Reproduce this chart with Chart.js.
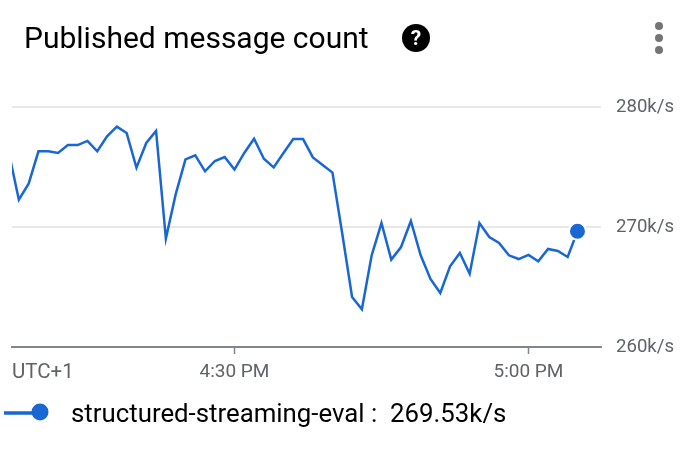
<!DOCTYPE html>
<html>
<head>
<meta charset="utf-8">
<title>Published message count</title>
<script src="https://cdn.jsdelivr.net/npm/chart.js@4/dist/chart.umd.min.js"></script>
<style>
  html, body { margin: 0; padding: 0; background: #fff; overflow: hidden; }
  body { width: 698px; height: 450px; position: relative; font-family: Roboto, sans-serif; }
  #myChart { position: absolute; left: 0; top: 0; }
  .title { position: absolute; left: 24px; top: 20px; font-size: 30px; line-height: 36px; color: #000; white-space: nowrap; }
  .help { position: absolute; left: 402px; top: 24px; }
  .menu { position: absolute; left: 653px; top: 20px; }
  .utc { position: absolute; left: 12px; top: 360px; font-size: 20.5px; line-height: 22px; color: #5f6368; }
  .legend { position: absolute; left: 0; top: 396px; height: 34px; width: 698px; }
  .legend svg { position: absolute; left: 0; top: 0; }
  .legend span { position: absolute; left: 71px; top: 2px; font-size: 25.8px; line-height: 30px; color: #000; white-space: pre; }
</style>
</head>
<body>
<canvas id="myChart" width="698" height="450"></canvas>
<div class="title" id="chartTitle"></div>
<svg class="help" width="28" height="28" viewBox="0 0 28 28">
  <circle cx="14" cy="14" r="14" fill="#000"/>
  <text x="14" y="21" text-anchor="middle" font-family="Roboto" font-weight="700" font-size="21" fill="#fff">?</text>
</svg>
<svg class="menu" width="12" height="36" viewBox="0 0 12 36">
  <circle cx="6" cy="6" r="4" fill="#757575"/>
  <circle cx="6" cy="18" r="4" fill="#757575"/>
  <circle cx="6" cy="30" r="4" fill="#757575"/>
</svg>
<div class="utc" id="zoneLabel"></div>
<div class="legend">
  <svg width="60" height="34" viewBox="0 0 60 34">
    <line x1="4" y1="17" x2="32" y2="17" stroke="#1967d2" stroke-width="3.5"/>
    <circle cx="40" cy="16" r="8.5" fill="#1967d2"/>
  </svg>
  <span id="legendText"></span>
</div>

<script>
const chartTitle = "Published message count";
const seriesName = "structured-streaming-eval";
const latestLabel = "269.53k/s";
const zoneLabel = "UTC+1";

// minutes relative to 4:30 PM
const minutes = [
  -23, -22, -21, -20, -19, -18, -17, -16, -15, -14, -13, -12, -11, -10, -9,
  -8, -7, -6, -5, -4, -3, -2, -1, 0, 1, 2, 3, 4, 5, 6,
  7, 8, 9, 10, 11, 12, 13, 14, 15, 16, 17, 18, 19, 20, 21,
  22, 23, 24, 25, 26, 27, 28, 29, 30, 31, 32, 33, 34, 35
];

// thousands of messages per second
const values = [
  276.1, 272.28, 273.61, 276.31, 276.31, 276.17, 276.83, 276.83, 277.17, 276.31, 277.56, 278.36, 277.83, 274.94, 277.0,
  278.0, 269.03, 272.72, 275.64, 275.97, 274.64, 275.5, 275.83, 274.78, 276.17, 277.36, 275.69, 274.97, 276.17, 277.33,
  277.33, 275.8, 275.17, 274.53, 269.44, 264.17, 263.14, 267.64, 270.33, 267.28, 268.33, 270.5, 267.64, 265.67, 264.5,
  266.72, 267.83, 266.11, 270.33, 269.17, 268.67, 267.64, 267.33, 267.67, 267.14, 268.17, 268.0, 267.5, 269.64
];

const xTicks = [0, 30];
const xTickLabels = ["4:30 PM", "5:00 PM"];
const yTicks = [260, 270, 280];

document.getElementById("chartTitle").textContent = chartTitle;
document.getElementById("zoneLabel").textContent = zoneLabel;
document.getElementById("legendText").textContent = seriesName + " :  " + latestLabel;

const points = minutes.map((m, i) => ({ x: m, y: values[i] }));
const lastIndex = points.length - 1;

const ctx = document.getElementById("myChart").getContext("2d");

const myChart = new Chart(ctx, {
  type: "line",
  data: {
    datasets: [{
      label: seriesName,
      data: points,
      borderColor: "#1967d2",
      backgroundColor: "#1967d2",
      borderWidth: 2.5,
      tension: 0,
      pointRadius: (c) => (c.dataIndex === lastIndex ? 8.5 : 0),
      pointBackgroundColor: "#1967d2",
      pointBorderColor: "#ffffff",
      pointBorderWidth: 2
    }]
  },
  options: {
    responsive: false,
    animation: false,
    layout: { padding: { left: 12, top: 107, right: 0, bottom: 0 } },
    plugins: { legend: { display: false }, tooltip: { enabled: false } },
    scales: {
      x: {
        type: "linear",
        min: -22.7,
        max: 37.4,
        border: { color: "#80868b", width: 2 },
        grid: { drawOnChartArea: false, color: "#80868b", tickLength: 7, tickWidth: 1.5 },
        afterBuildTicks: (axis) => { axis.ticks = xTicks.map((v) => ({ value: v })); },
        afterFit: (axis) => { axis.height = 103; },
        ticks: {
          autoSkip: false,
          maxRotation: 0,
          padding: 7,
          color: "#5f6368",
          font: { family: "Roboto", size: 19 },
          callback: (v) => xTickLabels[xTicks.indexOf(v)]
        }
      },
      y: {
        position: "right",
        min: 260,
        max: 280,
        border: { display: false },
        grid: {
          color: (c) => (c.tick.value === 260 ? "rgba(0,0,0,0)" : "#e8e8e8"),
          lineWidth: 2,
          drawTicks: false
        },
        afterBuildTicks: (axis) => { axis.ticks = yTicks.map((v) => ({ value: v })); },
        afterFit: (axis) => { axis.width = 97; },
        ticks: {
          padding: 15,
          color: "#5f6368",
          font: { family: "Roboto", size: 18.6 },
          callback: (v) => v + "k/s"
        }
      }
    }
  }
});
</script>
</body>
</html>
